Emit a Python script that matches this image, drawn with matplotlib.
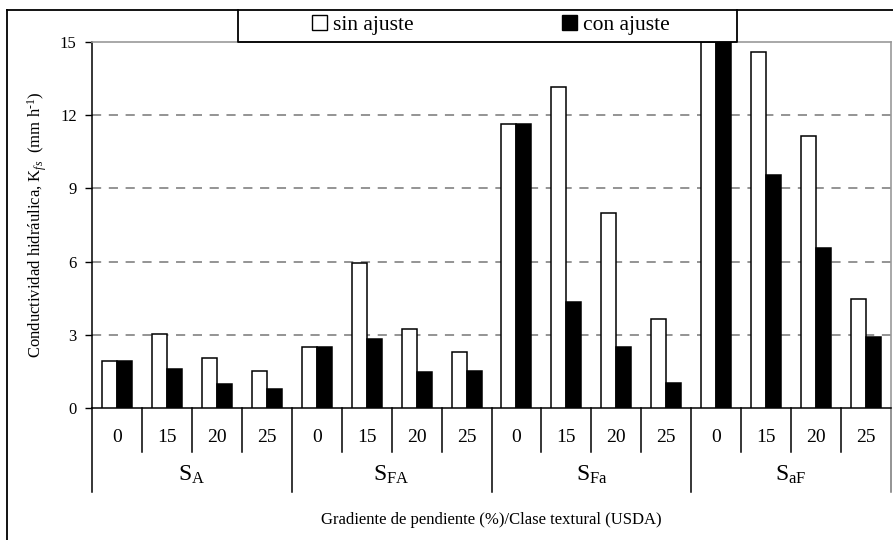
import numpy as np
import matplotlib.pyplot as plt
from matplotlib.patches import Patch
from matplotlib.lines import Line2D
import matplotlib.transforms as mtransforms

plt.rcParams['font.family'] = ['Liberation Serif', 'DejaVu Serif']
plt.rcParams['mathtext.fontset'] = 'custom'
plt.rcParams['mathtext.rm'] = 'Liberation Serif'
plt.rcParams['mathtext.it'] = 'Liberation Serif:italic'

# data
slopes = ['0', '15', '20', '25']
textures = [r'S$_{\mathrm{A}}$', r'S$_{\mathrm{FA}}$', r'S$_{\mathrm{Fa}}$', r'S$_{\mathrm{aF}}$']
sin_ajuste = [1.93, 3.02, 2.05, 1.50,
              2.51, 5.95, 3.25, 2.28,
              11.64, 13.16, 8.0, 3.66,
              15.0, 14.6, 11.16, 4.47]
con_ajuste = [1.93, 1.59, 0.97, 0.79,
              2.51, 2.84, 1.46, 1.52,
              11.64, 4.36, 2.49, 1.04,
              15.0, 9.55, 6.56, 2.91]

W, H = 893, 540
fig = plt.figure(figsize=(W / 100, H / 100), dpi=100)
ax = fig.add_axes([92 / W, (H - 408) / H, (891 - 92) / W, (408 - 42) / H])

x = np.arange(len(sin_ajuste))
bw = 0.3
ax.bar(x - bw / 2, sin_ajuste, bw, color='white', edgecolor='black', linewidth=1.1, zorder=3)
ax.bar(x + bw / 2, con_ajuste, bw, color='black', edgecolor='black', linewidth=1.1, zorder=3)

ax.set_xlim(-0.5, len(x) - 0.5)
ax.set_ylim(0, 15)
ax.set_yticks([0, 3, 6, 9, 12, 15])
ax.tick_params(axis='y', direction='out', length=5, width=1, labelsize=12, pad=6)
ax.set_xticks([])
for yv in [3, 6, 9, 12]:
    ax.axhline(yv, color='#777777', lw=1.1, ls=(0, (6, 5)), zorder=1)

for s in ['top', 'right']:
    ax.spines[s].set_color('#999999')
    ax.spines[s].set_linewidth(1.2)
ax.spines['left'].set_linewidth(1.1)
ax.spines['bottom'].set_linewidth(1.1)

# two-level category axis below the plot
tr = mtransforms.blended_transform_factory(ax.transData, ax.transAxes)
y_cat = -(452 - 408) / 366
y_grp = -(492 - 408) / 366
for k in range(len(x) + 1):
    xb = k - 0.5
    if k % 4 == 0:
        col = 'black' if k < len(x) else '#777777'
        ax.plot([xb, xb], [0, y_grp], transform=tr, color=col, lw=1.1, clip_on=False)
    else:
        ax.plot([xb, xb], [0, y_cat], transform=tr, color='black', lw=1.1, clip_on=False)
for i in x:
    ax.text(i, -(437 - 408) / 366, slopes[i % 4], transform=tr, ha='center', va='center', fontsize=14)
for g, lab in enumerate(textures):
    ax.text(g * 4 + 1.5, -(475 - 408) / 366, lab, transform=tr, ha='center', va='center', fontsize=17)

fig.text((92 + 891) / 2 / W, 1 - 520 / H, 'Gradiente de pendiente (%)/Clase textural (USDA)',
         ha='center', va='center', fontsize=12)
ax.set_ylabel(r'Conductividad hidráulica, K$_{\mathit{fs}}$  (mm h$^{\text{-1}}$)', fontsize=12, labelpad=8)

# outer chart frame (left and top edges visible)
fig.add_artist(Line2D([7 / W, 7 / W], [0, 1 - 10 / H], color='black', lw=1.3))
fig.add_artist(Line2D([7 / W, 1], [1 - 10 / H, 1 - 10 / H], color='black', lw=1.3))

# legend box
lx0, lx1, ly0, ly1 = 238 / W, 737 / W, 1 - 42 / H, 1 - 10 / H
fig.add_artist(Line2D([lx0, lx0, lx1, lx1], [ly1, ly0, ly0, ly1], color='black', lw=1.3))
handles = [Patch(facecolor='white', edgecolor='black', lw=1.0),
           Patch(facecolor='black', edgecolor='black', lw=1.0)]
fig.legend(handles, ['sin ajuste', 'con ajuste'], ncol=2, loc='center',
           bbox_to_anchor=((lx0 + lx1) / 2 + 3 / W, (ly0 + ly1) / 2 + 1 / H), frameon=False,
           fontsize=15.5, handlelength=0.72, handleheight=0.72, handletextpad=0.25,
           columnspacing=6.9, borderpad=0)

fig.savefig('out.png', dpi=100)
